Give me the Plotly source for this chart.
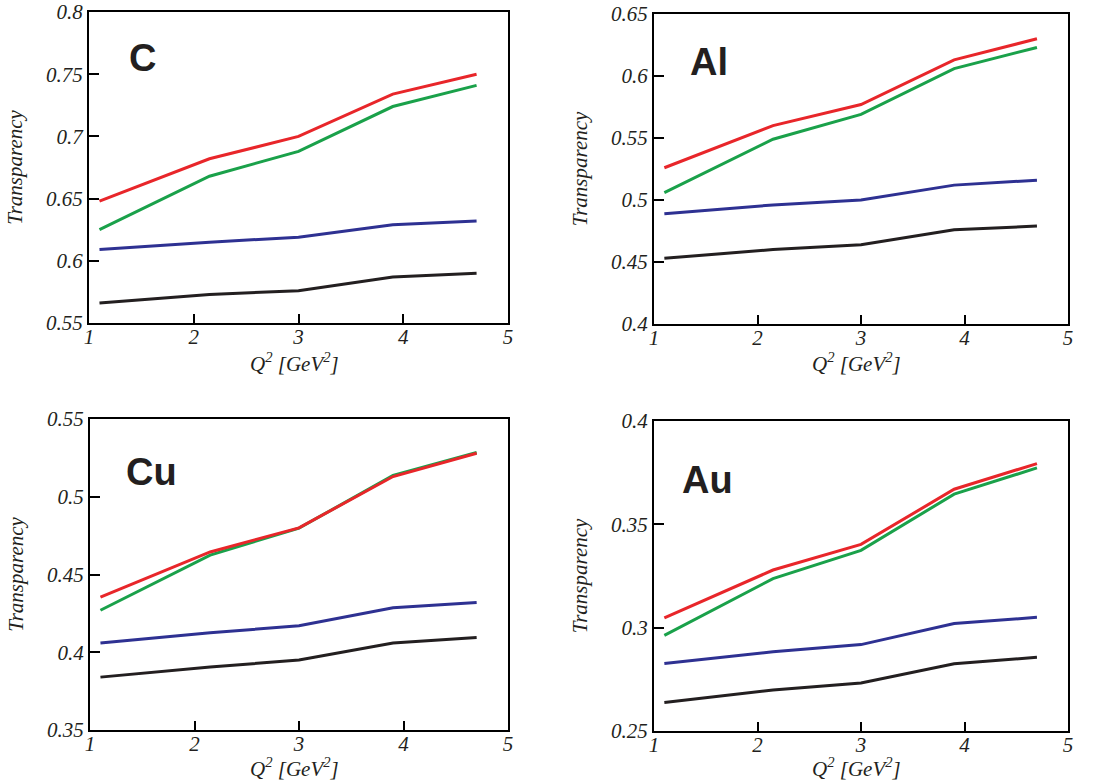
import plotly.graph_objects as go

q2 = [1.1, 2.15, 3.0, 3.9, 4.7]

# Panel C
c_red = [0.648, 0.682, 0.700, 0.734, 0.750]
c_green = [0.625, 0.668, 0.688, 0.724, 0.741]
c_blue = [0.609, 0.615, 0.619, 0.629, 0.632]
c_black = [0.566, 0.573, 0.576, 0.587, 0.590]

# Panel Al
al_red = [0.526, 0.560, 0.577, 0.613, 0.630]
al_green = [0.506, 0.549, 0.569, 0.606, 0.623]
al_blue = [0.489, 0.496, 0.500, 0.512, 0.516]
al_black = [0.453, 0.460, 0.464, 0.476, 0.479]

# Panel Cu
cu_red = [0.4355, 0.4645, 0.480, 0.513, 0.528]
cu_green = [0.427, 0.4625, 0.4798, 0.5137, 0.5285]
cu_blue = [0.406, 0.4125, 0.417, 0.4286, 0.432]
cu_black = [0.384, 0.3905, 0.395, 0.406, 0.4095]

# Panel Au
au_red = [0.3047, 0.3279, 0.3403, 0.367, 0.3794]
au_green = [0.2963, 0.3237, 0.3374, 0.3646, 0.3773]
au_blue = [0.2827, 0.2883, 0.2918, 0.302, 0.305]
au_black = [0.2638, 0.2698, 0.2732, 0.2825, 0.2857]

panel_names = ["C", "Al", "Cu", "Au"]
y_ranges = [[0.55, 0.8], [0.4, 0.65], [0.35, 0.55], [0.25, 0.4]]
y_ticks = [
    [0.55, 0.6, 0.65, 0.7, 0.75, 0.8],
    [0.4, 0.45, 0.5, 0.55, 0.6, 0.65],
    [0.35, 0.4, 0.45, 0.5, 0.55],
    [0.25, 0.3, 0.35, 0.4],
]
y_ticklabels = [
    ["0.55", "0.6", "0.65", "0.7", "0.75", "0.8"],
    ["0.4", "0.45", "0.5", "0.55", "0.6", "0.65"],
    ["0.35", "0.4", "0.45", "0.5", "0.55"],
    ["0.25", "0.3", "0.35", "0.4"],
]
x_ticks = [1, 2, 3, 4, 5]
x_ticklabels = ["1", "2", "3", "4", "5"]
x_title = "Q<sup>2</sup> [GeV<sup>2</sup>]"
y_title = "Transparency"

series = [
    [c_black, c_blue, c_green, c_red],
    [al_black, al_blue, al_green, al_red],
    [cu_black, cu_blue, cu_green, cu_red],
    [au_black, au_blue, au_green, au_red],
]
colors = ["#231f20", "#2e3192", "#1aa14a", "#e8262a"]

W, H = 1095, 784
# pixel boxes: (left, right, top, bottom)
boxes = [(89, 508, 12, 323), (654, 1068, 14, 324), (90, 508, 419, 730), (654, 1068, 421, 731)]
label_pos = [(0.09, 0.852), (0.082, 0.845), (0.081, 0.83), (0.063, 0.81)]
xtitle_y = [362, 362, 767, 767]

fig = go.Figure()
serif = "Liberation Serif, Times New Roman, serif"
ink = "#231f20"

layout = dict(
    width=W, height=H,
    margin=dict(l=0, r=0, t=0, b=0),
    paper_bgcolor="white", plot_bgcolor="white",
    showlegend=False,
    annotations=[],
)

for i in range(4):
    n = "" if i == 0 else str(i + 1)
    xa = "x" + n
    ya = "y" + n
    for s, col in zip(series[i], colors):
        fig.add_trace(go.Scatter(x=q2, y=s, mode="lines", xaxis=xa, yaxis=ya,
                                 line=dict(color=col, width=3), hoverinfo="skip"))
    l, r, t, b = boxes[i]
    layout["xaxis" + n] = dict(
        domain=[l / W, r / W], anchor=ya, range=[1, 5], automargin=False,
        tickvals=x_ticks, ticktext=x_ticklabels,
        ticks="inside", ticklen=9, tickwidth=1.5, tickcolor="black",
        ticklabelstandoff=-6,
        showline=True, linecolor="black", linewidth=2, mirror=True,
        showgrid=False, zeroline=False,
        tickfont=dict(family=serif, size=21, color=ink, style="italic"),
    )
    layout["yaxis" + n] = dict(
        domain=[1 - b / H, 1 - t / H], anchor=xa, range=y_ranges[i], automargin=False,
        tickvals=y_ticks[i], ticktext=y_ticklabels[i],
        ticks="inside", ticklen=10, tickwidth=1.5, tickcolor="black",
        showline=True, linecolor="black", linewidth=2, mirror=True,
        showgrid=False, zeroline=False,
        tickfont=dict(family=serif, size=21, color=ink, style="italic"),
        title=dict(text=y_title, standoff=18,
                   font=dict(family=serif, size=21, color=ink, style="italic")),
    )
    layout["annotations"].append(dict(
        text=x_title, xref=xa + " domain", yref="paper",
        x=0.49, y=1 - xtitle_y[i] / H, xanchor="center", yanchor="middle", showarrow=False,
        font=dict(family=serif, size=21, color=ink, style="italic"),
    ))
    lx, ly = label_pos[i]
    layout["annotations"].append(dict(
        text="<b>" + panel_names[i] + "</b>", xref=xa + " domain", yref=ya + " domain",
        x=lx, y=ly, xanchor="left", yanchor="middle", showarrow=False,
        font=dict(family="Liberation Sans, Arial, sans-serif", size=38, color=ink),
    ))

fig.update_layout(**layout)
fig.write_html("out.html")
